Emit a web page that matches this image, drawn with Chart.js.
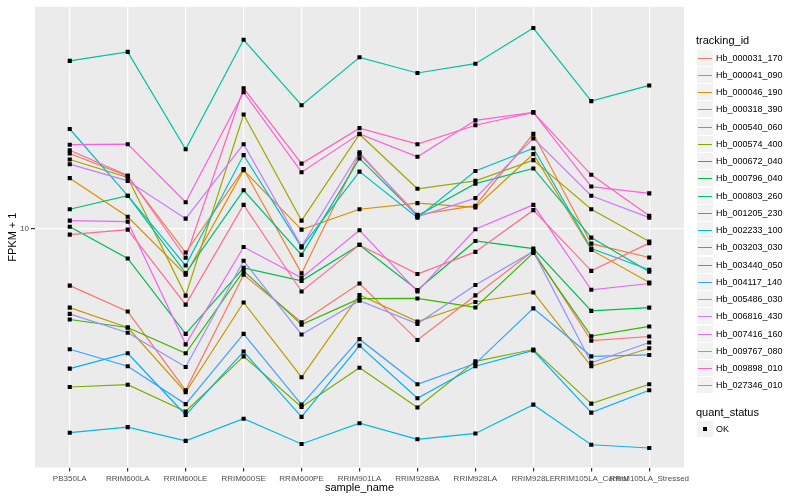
<!DOCTYPE html>
<html><head><meta charset="utf-8">
<script src="https://cdn.jsdelivr.net/npm/chart.js@4.4.1/dist/chart.umd.min.js"></script>
<style>
html,body{margin:0;padding:0;background:#fff;}
#wrap{position:relative;width:800px;height:500px;font-family:"Liberation Sans",Arial,Helvetica,sans-serif;}
canvas{position:absolute;left:0;top:0;}
.lt{position:absolute;left:696px;font-size:11px;line-height:13px;color:#000;white-space:nowrap;}
.key{position:absolute;left:697px;width:16px;height:16px;background:#F2F2F2;}
.key span{position:absolute;left:1px;right:1px;top:8px;height:1px;}
.key i{position:absolute;left:6px;top:6px;width:4px;height:4px;background:#000;}
.lab{position:absolute;left:716px;height:17px;line-height:17px;font-size:9px;color:#000;white-space:nowrap;}
</style></head><body>
<div id="wrap"><canvas id="c" width="800" height="500"></canvas><div id="legend"></div></div>
<script>
const categories = ["PB350LA","RRIM600LA","RRIM600LE","RRIM600SE","RRIM600PE","RRIM901LA","RRIM928BA","RRIM928LA","RRIM928LE","RRIM105LA_Control","RRIM105LA_Stressed"];
const yTicks = [10];

const Hb_000031_170 = [5.92, 4.66, 2.25, 6.55, 4.22, 6.04, 3.58, 5.41, 8.17, 3.56, 3.70];
const Hb_000041_090 = [20.1, 16.3, 8.04, 17.4, 6.63, 20.0, 11.4, 12.4, 24.1, 8.73, 7.68];
const Hb_000046_190 = [16.0, 11.2, 6.55, 17.2, 9.94, 12.0, 12.7, 12.2, 20.0, 8.24, 6.10];
const Hb_000318_390 = [4.83, 4.02, 2.21, 5.07, 2.54, 5.43, 4.25, 5.09, 5.56, 2.81, 3.32];
const Hb_000540_060 = [19.0, 16.1, 5.40, 28.8, 10.8, 24.0, 14.5, 15.6, 18.9, 12.0, 8.90];
const Hb_000574_400 = [2.32, 2.37, 1.85, 3.08, 1.93, 2.77, 1.92, 2.94, 3.28, 1.99, 2.38];
const Hb_000672_040 = [4.33, 4.02, 3.17, 6.79, 4.13, 5.25, 5.26, 4.84, 8.02, 3.71, 4.06];
const Hb_000796_040 = [10.2, 7.61, 3.79, 6.98, 6.19, 8.63, 5.69, 8.95, 8.34, 4.69, 4.83];
const Hb_000803_260 = [12.0, 13.6, 6.65, 14.3, 7.87, 19.2, 11.3, 15.2, 17.5, 9.23, 6.73];
const Hb_001205_230 = [47.3, 51.4, 20.9, 57.5, 31.4, 48.9, 42.3, 46.1, 64.1, 32.6, 37.7];
const Hb_002233_100 = [25.2, 13.6, 7.13, 19.8, 8.43, 17.0, 11.1, 17.1, 21.1, 8.34, 6.86];
const Hb_003203_030 = [1.52, 1.60, 1.41, 1.73, 1.37, 1.66, 1.43, 1.51, 1.97, 1.36, 1.32];
const Hb_003440_050 = [2.75, 3.17, 1.79, 3.22, 1.76, 3.40, 2.09, 2.81, 3.25, 1.83, 2.25];
const Hb_004117_140 = [3.29, 2.81, 1.98, 3.79, 1.97, 3.61, 2.38, 2.88, 4.80, 3.08, 3.12];
const Hb_005486_030 = [4.56, 3.83, 2.79, 7.45, 3.77, 5.15, 4.16, 5.96, 8.13, 2.90, 3.50];
const Hb_006816_430 = [18.2, 15.6, 11.0, 21.9, 8.51, 20.3, 11.2, 13.3, 23.1, 13.6, 11.1];
const Hb_007416_160 = [10.8, 10.7, 3.44, 8.47, 6.37, 9.88, 5.61, 9.97, 12.5, 5.70, 6.04];
const Hb_009767_080 = [21.8, 21.9, 12.8, 35.4, 16.9, 24.1, 19.5, 27.3, 29.4, 14.8, 13.9];
const Hb_009898_010 = [20.7, 16.4, 7.66, 36.7, 18.3, 25.4, 21.9, 26.1, 29.4, 16.5, 11.3];
const Hb_027346_010 = [9.49, 9.94, 4.97, 12.5, 5.61, 8.63, 6.59, 8.09, 11.9, 6.79, 8.77];

const seriesNames = ["Hb_000031_170","Hb_000041_090","Hb_000046_190","Hb_000318_390","Hb_000540_060","Hb_000574_400","Hb_000672_040","Hb_000796_040","Hb_000803_260","Hb_001205_230","Hb_002233_100","Hb_003203_030","Hb_003440_050","Hb_004117_140","Hb_005486_030","Hb_006816_430","Hb_007416_160","Hb_009767_080","Hb_009898_010","Hb_027346_010"];
const seriesValues = [Hb_000031_170,Hb_000041_090,Hb_000046_190,Hb_000318_390,Hb_000540_060,Hb_000574_400,Hb_000672_040,Hb_000796_040,Hb_000803_260,Hb_001205_230,Hb_002233_100,Hb_003203_030,Hb_003440_050,Hb_004117_140,Hb_005486_030,Hb_006816_430,Hb_007416_160,Hb_009767_080,Hb_009898_010,Hb_027346_010];
const seriesColors = ["#F8766D","#EA8331","#D89000","#C09B00","#A3A500","#7CAE00","#39B600","#00BB4E","#00BF7D","#00C1A3","#00BFC4","#00BAE0","#00B0F6","#35A2FF","#9590FF","#C77CFF","#E76BF3","#FA62DB","#FF62BC","#FF6C91"];

const toXY = vals => vals.map((v,i)=>({x:i,y:v}));
const datasets = [];
seriesValues.forEach((vals,i)=>{
  datasets.push({label:seriesNames[i], data:toXY(vals), borderColor:seriesColors[i], backgroundColor:seriesColors[i],
    borderWidth:1.2, pointRadius:0, pointHoverRadius:0, fill:false, tension:0, order:100-i});
});
seriesValues.forEach((vals,i)=>{
  datasets.push({label:seriesNames[i]+'_pts', data:toXY(vals), showLine:false, pointStyle:'rect', pointRadius:2.9,
    pointBackgroundColor:'#000', pointBorderWidth:0, pointBorderColor:'#000', order:0});
});

const bgPlugin = {id:'bg', beforeDraw(chart){
  const {ctx, chartArea:a} = chart;
  ctx.save();
  ctx.fillStyle='#fff'; ctx.fillRect(0,0,chart.width,chart.height);
  ctx.fillStyle='#EBEBEB'; ctx.fillRect(a.left,a.top,a.right-a.left,a.bottom-a.top);
  ctx.restore();
}};

new Chart(document.getElementById('c'), {
  type:'line',
  data:{datasets},
  plugins:[bgPlugin],
  options:{
    responsive:false, animation:false, devicePixelRatio:1,
    layout:{padding:{left:0,right:116,top:5,bottom:0}},
    plugins:{legend:{display:false}, tooltip:{enabled:false}},
    events:[],
    scales:{
      x:{type:'linear', min:-0.6, max:10.6,
        afterBuildTicks:s=>{ s.ticks = categories.map((c,i)=>({value:i})); },
        afterFit:s=>{ s.height = 32.5; },
        ticks:{autoSkip:false, maxRotation:0, minRotation:0, padding:2, color:'#4D4D4D',
          font:{family:'"Liberation Sans", Arial, sans-serif', size:8}, callback:v=>categories[v]},
        grid:{color:'#FFFFFF', lineWidth:1.2, tickColor:'#333333', tickLength:4, drawTicks:true},
        border:{display:false},
        title:{display:true, text:'sample_name', color:'#000', font:{family:'"Liberation Sans", Arial, sans-serif', size:11}, padding:{top:0,bottom:5.4}}
      },
      y:{type:'logarithmic', min:1.102, max:78.0,
        afterBuildTicks:s=>{ s.ticks = yTicks.map(v=>({value:v, major:true})); },
        afterFit:s=>{ s.width = 35; },
        ticks:{padding:2, color:'#4D4D4D', font:{family:'"Liberation Sans", Arial, sans-serif', size:8}, callback:v=>String(v)},
        grid:{color:'#FFFFFF', lineWidth:1.2, tickColor:'#333333', tickLength:4, drawTicks:true},
        border:{display:false},
        title:{display:true, text:'FPKM + 1', color:'#000', font:{family:'"Liberation Sans", Arial, sans-serif', size:11}, padding:{top:6,bottom:0}}
      }
    }
  }
});

let html = '<div class="lt" style="top:33.5px">tracking_id</div>';
seriesNames.forEach((n,i)=>{
  const top = Math.round(49.5 + 17.25*i);
  html += '<div class="key" style="top:'+top+'px"><span style="background:'+seriesColors[i]+'"></span></div>';
  html += '<div class="lab" style="top:'+top+'px;line-height:16px;height:16px">'+n+'</div>';
});
html += '<div class="lt" style="top:405.8px">quant_status</div>';
html += '<div class="key" style="top:421px"><i></i></div><div class="lab" style="top:421px;line-height:16px;height:16px">OK</div>';
document.getElementById('legend').innerHTML = html;
</script>
</body></html>
